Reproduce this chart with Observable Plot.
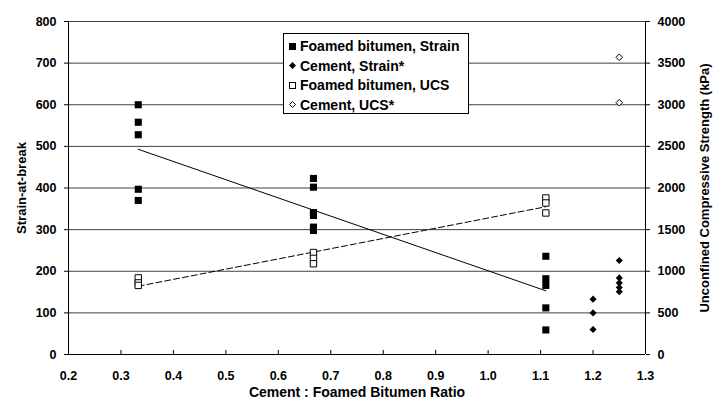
<!DOCTYPE html>
<html><head><meta charset="utf-8">
<script src="https://cdn.jsdelivr.net/npm/d3@7"></script>
<script src="https://cdn.jsdelivr.net/npm/@observablehq/plot@0.6"></script>
<style>
body{margin:0;background:#fff;}
#wrap{position:relative;width:715px;height:403px;font-family:"Liberation Sans",Arial,sans-serif;font-weight:bold;}
#legend{position:absolute;left:283px;top:33px;width:186px;height:81px;border:1px solid #000;background:#fff;box-sizing:border-box;font-size:14px;color:#000;}
.item{position:absolute;left:4px;height:16px;display:flex;align-items:center;white-space:nowrap;}
.item svg{margin-right:3px;}
svg text.ttl{font-size:13px;}
</style></head><body><div id="wrap"><div id="legend"></div></div>
<script>
// ---- data ----
const xTickValues = [0.2,0.3,0.4,0.5,0.6,0.7,0.8,0.9,1.0,1.1,1.2,1.3];
const strainTicks = [0,100,200,300,400,500,600,700,800];
const ucsPerStrain = 5; // right axis 0–4000 vs left 0–800

const fbStrainX = [0.333,0.333,0.333,0.333,0.333, 0.667,0.667,0.667,0.667,0.667,0.667, 1.11,1.11,1.11,1.11,1.11];
const fbStrain  = [600,558,528,397,370, 423,402,341,334,306,298, 236,182,166,112,59];

const cemStrainX = [1.2,1.2,1.2, 1.25,1.25,1.25,1.25,1.25];
const cemStrain  = [133,100,60, 226,184,172,161,151];

const fbUcsX = [0.333,0.333,0.333, 0.667,0.667,0.667, 1.11,1.11,1.11];
const fbUcs  = [920,860,830, 1225,1155,1090, 1880,1820,1700];

const cemUcsX = [1.25,1.25];
const cemUcs  = [3570,3025];

const trendStrainX = [0.333,1.11];
const trendStrain  = [493,153];
const trendUcsX = [0.333,1.11];
const trendUcs  = [820,1775];

const legendNames = ["Foamed bitumen, Strain","Cement, Strain*","Foamed bitumen, UCS","Cement, UCS*"];

// ---- tables ----
const zip = (xs, ys, k=1) => ys.map((v,i)=>({x:xs[i], y:v/k}));
const fbS = zip(fbStrainX, fbStrain);
const cS = zip(cemStrainX, cemStrain);
const fbU = zip(fbUcsX, fbUcs, ucsPerStrain);
const cU = zip(cemUcsX, cemUcs, ucsPerStrain);
const tS = zip(trendStrainX, trendStrain);
const tU = zip(trendUcsX, trendUcs, ucsPerStrain);

const chart = Plot.plot({
  width: 715, height: 403,
  marginLeft: 68, marginRight: 70, marginTop: 21, marginBottom: 49,
  style: {fontFamily: '"Liberation Sans", Arial, sans-serif', fontSize: "12.5px", fontWeight: "bold", color: "#000", background: "transparent", overflow: "visible"},
  x: {domain: [0.2, 1.3]},
  y: {domain: [0, 800]},
  marks: [
    Plot.gridY(strainTicks, {stroke: "#404040", strokeOpacity: 1}),
    Plot.axisY(strainTicks, {anchor: "left", tickSize: 4, tickPadding: 8, label: "Strain-at-break", labelAnchor: "center", labelOffset: 52, labelArrow: "none"}),
    Plot.axisY(strainTicks, {anchor: "right", tickSize: 4, tickPadding: 8, tickFormat: d => String(d * ucsPerStrain), label: "Unconfined Compressive Strength (kPa)", labelAnchor: "center", labelOffset: 63, labelArrow: "none"}),
    Plot.axisX(xTickValues, {anchor: "bottom", tickSize: -4, tickPadding: 21, tickFormat: d => d.toFixed(1), label: "Cement : Foamed Bitumen Ratio", labelAnchor: "center", labelOffset: 42, labelArrow: "none"}),
    Plot.ruleY([0], {stroke: "#000"}),
    Plot.ruleX([0.2], {stroke: "#000"}),
    Plot.ruleX([1.3], {stroke: "#000"}),
    Plot.line(tS, {x: "x", y: "y", stroke: "#000", strokeWidth: 1}),
    Plot.line(tU, {x: "x", y: "y", stroke: "#000", strokeWidth: 1, strokeDasharray: "6,3"}),
    Plot.dot(fbS, {x: "x", y: "y", symbol: "square", r: 4, fill: "#000", stroke: "none"}),
    Plot.dot(cS, {x: "x", y: "y", symbol: "diamond2", r: 3.2, fill: "#000", stroke: "none"}),
    Plot.dot(fbU, {x: "x", y: "y", symbol: "square", r: 3.6, fill: "#fff", stroke: "#000", strokeWidth: 1}),
    Plot.dot(cU, {x: "x", y: "y", symbol: "diamond2", r: 3, fill: "#fff", stroke: "#000", strokeWidth: 1})
  ]
});
// axis titles slightly larger than tick labels (x title widest)
chart.querySelectorAll("g[aria-label='y-axis label'] text, g[aria-label='x-axis label'] text").forEach(t => t.setAttribute("font-size", "13px"));
chart.querySelectorAll("g[aria-label='x-axis label'] text").forEach(t => t.setAttribute("font-size", "14px"));
document.getElementById("wrap").prepend(chart);

// ---- legend ----
const markers = [
  '<rect x="1" y="1" width="7" height="7" fill="#000"/>',
  '<path d="M4.5,1 L8,4.5 L4.5,8 L1,4.5Z" fill="#000"/>',
  '<rect x="1.5" y="1.5" width="6" height="6" fill="#fff" stroke="#000"/>',
  '<path d="M4.5,1.5 L7.5,4.5 L4.5,7.5 L1.5,4.5Z" fill="#fff" stroke="#000"/>'
];
const leg = document.getElementById("legend");
legendNames.forEach((n, i) => {
  const d = document.createElement("div");
  d.className = "item";
  d.style.top = (4 + i * 19.5) + "px";
  d.innerHTML = `<svg width="9" height="9">${markers[i]}</svg><span>${n}</span>`;
  leg.appendChild(d);
});
</script>
</body></html>
